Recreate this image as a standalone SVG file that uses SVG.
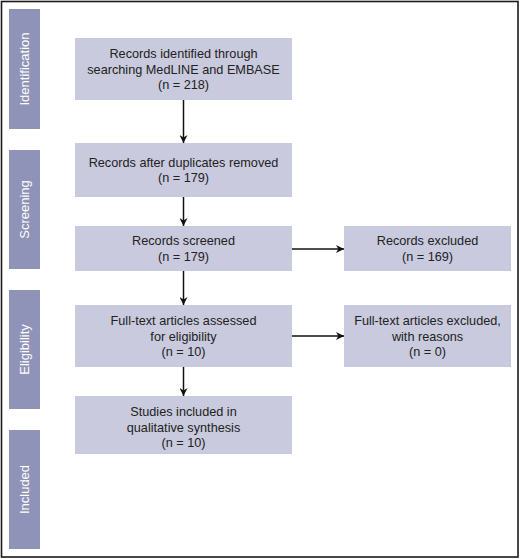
<svg xmlns="http://www.w3.org/2000/svg" width="520" height="559" viewBox="0 0 520 559">
<style>
.bg{fill:#ffffff}
.frame{fill:none;stroke:#1a1a1a;stroke-width:1.6}
.side{fill:#8f93b7}
.box{fill:#c9cadd}
.st{font-family:"Liberation Sans",Arial,sans-serif;font-size:13px;fill:#ffffff;text-anchor:middle}
.t{font-family:"Liberation Sans",Arial,sans-serif;font-size:12.7px;fill:#222222;text-anchor:middle}
.c{stroke:#111111;stroke-width:1.5;fill:none;marker-end:url(#ah)}
</style>
<defs>
<marker id="ah" viewBox="0 0 10 10" refX="10" refY="5" markerWidth="8" markerHeight="8" markerUnits="userSpaceOnUse" orient="auto">
<path d="M0,0 L10,5 L0,10 L3,5 Z" fill="#111111"/>
</marker>
</defs>
<rect class="bg" x="0" y="0" width="520" height="559"/>
<rect class="frame" x="1.5" y="1.5" width="516.5" height="555.5"/>

<g id="stage-identification">
<rect class="side" x="9" y="9" width="31" height="120"/>
<text class="st" transform="translate(29,69) rotate(-90)">Identification</text>
</g>
<g id="stage-screening">
<rect class="side" x="9" y="150" width="31" height="119"/>
<text class="st" transform="translate(29,209.5) rotate(-90)">Screening</text>
</g>
<g id="stage-eligibility">
<rect class="side" x="9" y="290" width="31" height="119"/>
<text class="st" transform="translate(29,349.5) rotate(-90)">Eligibility</text>
</g>
<g id="stage-included">
<rect class="side" x="9" y="430" width="31" height="119"/>
<text class="st" transform="translate(29,489.5) rotate(-90)">Included</text>
</g>

<g id="n1">
<rect class="box" x="75" y="38" width="217" height="62"/>
<text class="t" x="183.5" y="58">Records identified through</text>
<text class="t" x="183.5" y="74">searching MedLINE and EMBASE</text>
<text class="t" x="183.5" y="89">(n = 218)</text>
</g>
<g id="n2">
<rect class="box" x="75" y="143" width="217" height="54"/>
<text class="t" x="183.5" y="167">Records after duplicates removed</text>
<text class="t" x="183.5" y="182">(n = 179)</text>
</g>
<g id="n3">
<rect class="box" x="75" y="226" width="217" height="45"/>
<text class="t" x="183.5" y="245">Records screened</text>
<text class="t" x="183.5" y="261">(n = 179)</text>
</g>
<g id="n4">
<rect class="box" x="344" y="226" width="167" height="45"/>
<text class="t" x="427.5" y="245">Records excluded</text>
<text class="t" x="427.5" y="261">(n = 169)</text>
</g>
<g id="n5">
<rect class="box" x="75" y="305" width="217" height="62"/>
<text class="t" x="183.5" y="325">Full-text articles assessed</text>
<text class="t" x="183.5" y="341">for eligibility</text>
<text class="t" x="183.5" y="356">(n = 10)</text>
</g>
<g id="n6">
<rect class="box" x="344" y="305" width="167" height="62"/>
<text class="t" x="427.5" y="325">Full-text articles excluded,</text>
<text class="t" x="427.5" y="341">with reasons</text>
<text class="t" x="427.5" y="356">(n = 0)</text>
</g>
<g id="n7">
<rect class="box" x="75" y="396" width="217" height="58"/>
<text class="t" x="183.5" y="416">Studies included in</text>
<text class="t" x="183.5" y="432">qualitative synthesis</text>
<text class="t" x="183.5" y="447">(n = 10)</text>
</g>

<g id="connectors">
<line class="c" x1="183.5" y1="100" x2="183.5" y2="143"/>
<line class="c" x1="183.5" y1="197" x2="183.5" y2="226"/>
<line class="c" x1="183.5" y1="271" x2="183.5" y2="305"/>
<line class="c" x1="183.5" y1="367" x2="183.5" y2="396"/>
<line class="c" x1="292" y1="249" x2="344" y2="249"/>
<line class="c" x1="292" y1="336" x2="344" y2="336"/>
</g>
</svg>
